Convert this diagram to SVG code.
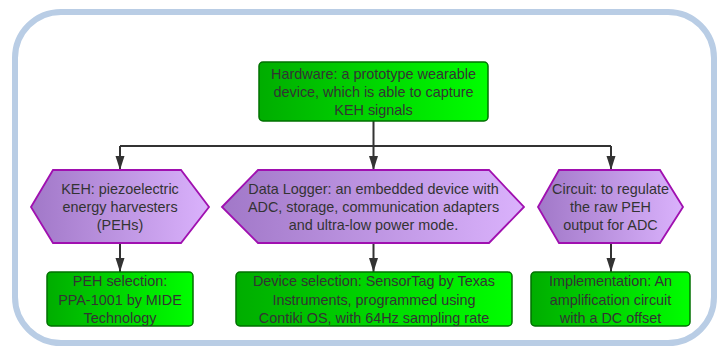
<svg xmlns="http://www.w3.org/2000/svg" width="717" height="347" viewBox="0 0 717 347">
<defs>
<linearGradient id="gg" x1="0" y1="0" x2="1" y2="0">
<stop offset="0" stop-color="#00ad00"/>
<stop offset="1" stop-color="#00ff00"/>
</linearGradient>
<linearGradient id="pg" x1="0" y1="0" x2="1" y2="0">
<stop offset="0" stop-color="#a178c8"/>
<stop offset="1" stop-color="#dab2fc"/>
</linearGradient>
<marker id="ah" markerUnits="userSpaceOnUse" markerWidth="14" markerHeight="10" refX="14" refY="4.5" orient="auto" viewBox="0 0 14 9">
<path d="M0,0 L14,4.5 L0,9 Z" fill="#333"/>
</marker>
</defs>
<style>
.frame{fill:#fff;stroke:#b9cde5;stroke-width:6}
.gbox{fill:url(#gg);stroke:#007000;stroke-width:1.5}
.hex{fill:url(#pg);stroke:#a010b0;stroke-width:1.8}
.conn{fill:none;stroke:#333;stroke-width:2}
text{font-family:"Liberation Sans",Arial,sans-serif;font-size:14.4px;fill:#333;text-anchor:middle}
</style>
<rect class="frame" x="15" y="12" width="699" height="331" rx="46" ry="46"/>
<g id="connectors">
<path class="conn" d="M373.5,121 V146 M120,146 H611"/>
<path class="conn" d="M120,146 V170" marker-end="url(#ah)"/>
<path class="conn" d="M373.5,146 V170" marker-end="url(#ah)"/>
<path class="conn" d="M611,146 V170" marker-end="url(#ah)"/>
<path class="conn" d="M120,243 V272" marker-end="url(#ah)"/>
<path class="conn" d="M373.5,243 V272" marker-end="url(#ah)"/>
<path class="conn" d="M611,243 V272" marker-end="url(#ah)"/>
</g>
<g id="hardware">
<rect class="gbox" x="259" y="62" width="229" height="59" rx="4"/>
<text x="373.5" y="79">Hardware: a prototype wearable</text>
<text x="373.5" y="97">device, which is able to capture</text>
<text x="373.5" y="115">KEH signals</text>
</g>
<g id="keh">
<polygon class="hex" points="31,207 53,170 181,170 209,207 181,243 53,243"/>
<text x="120" y="194">KEH: piezoelectric</text>
<text x="120" y="212">energy harvesters</text>
<text x="120" y="230">(PEHs)</text>
</g>
<g id="datalogger">
<polygon class="hex" points="222,207 258,170 489,170 524,207 489,243 258,243"/>
<text x="373.5" y="194">Data Logger: an embedded device with</text>
<text x="373.5" y="212">ADC, storage, communication adapters</text>
<text x="373.5" y="230">and ultra-low power mode.</text>
</g>
<g id="circuit">
<polygon class="hex" points="538,207 559,170 660,170 683,207 660,243 559,243"/>
<text x="610.5" y="194">Circuit: to regulate</text>
<text x="610.5" y="212">the raw PEH</text>
<text x="610.5" y="230">output for ADC</text>
</g>
<g id="peh">
<rect class="gbox" x="47" y="272" width="146" height="54" rx="4"/>
<text x="120" y="286">PEH selection:</text>
<text x="120" y="305">PPA-1001 by MIDE</text>
<text x="120" y="323">Technology</text>
</g>
<g id="device">
<rect class="gbox" x="236" y="272" width="276" height="54" rx="4"/>
<text x="374" y="286">Device selection: SensorTag by Texas</text>
<text x="374" y="305">Instruments, programmed using</text>
<text x="374" y="323">Contiki OS, with 64Hz sampling rate</text>
</g>
<g id="implementation">
<rect class="gbox" x="531" y="272" width="159" height="54" rx="4"/>
<text x="610.5" y="286">Implementation: An</text>
<text x="610.5" y="305">amplification circuit</text>
<text x="610.5" y="323">with a DC offset</text>
</g>
</svg>
